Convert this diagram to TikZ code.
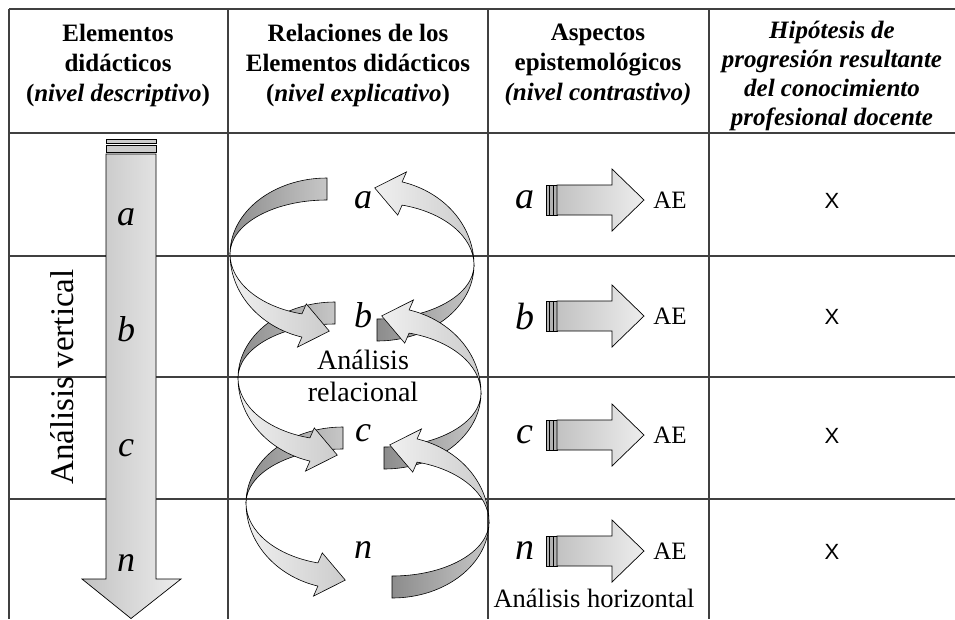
\documentclass[tikz,border=0pt]{standalone}
\usepackage{fontspec}
\setmainfont{Liberation Serif}
\newfontfamily\sansx{Liberation Sans}
\definecolor{gristabla}{HTML}{404040}

\tikzset{
  tabla/.style={draw=gristabla, line width=1.3pt},
  cabecera/.style={font=\bfseries\fontsize{25}{30}\selectfont, align=center},
  letra/.style={font=\itshape\fontsize{36}{38}\selectfont},
  bloque/.style={draw=black, line width=0.7pt, left color=black!24, right color=black!7},
  raya/.style={draw=black, line width=0.6pt, fill=black!30},
  cintaosc/.style={draw=black, line width=0.6pt, left color=black!45, right color=black!22},
  cintaclara/.style={draw=black, line width=0.6pt, left color=black!6, right color=black!20},
  lazo/.pic={
    % cara de atras
    \path[cintaosc] (0,76) arc[start angle=90, end angle=180, x radius=97, y radius=76]
      arc[start angle=180, end angle=90, x radius=97, y radius=54] -- cycle;
    % cara de delante con la punta
    \path[cintaclara] (-97,0) arc[start angle=180, end angle=255, x radius=97, y radius=86]
      -- (-29.5,-93.1) -- (2.3,-77.1) -- (-20.7,-49.9) -- (-25.1,-59.9)
      arc[start angle=255, end angle=180, x radius=97, y radius=62] -- cycle;
  }
}

\begin{document}
\begin{tikzpicture}[x=1pt, y=1pt]
  \useasboundingbox (0,0) rectangle (955,-619);

  % tabla
  \draw[tabla] (9,-9) -- (955,-9);
  \foreach \yy in {133,256,377,499}
    \draw[tabla] (9,-\yy) -- (955,-\yy);
  \foreach \xx in {9,228,488,709}
    \draw[tabla] (\xx,-9) -- (\xx,-619);

  % cabeceras
  \node[cabecera] (cab1) at (118,-65) {Elementos\\didácticos\\(\textit{nivel descriptivo})};
  \node[cabecera] (cab2) at (358,-65) {Relaciones de los\\Elementos didácticos\\(\textit{nivel explicativo})};
  \node[cabecera] (cab3) at (598,-65) {Aspectos\\epistemológicos\\\textit{(nivel contrastivo)}};
  \node[cabecera, font=\bfseries\itshape\fontsize{25}{29}\selectfont] (cab4) at (832,-76)
    {Hipótesis de\\progresión resultante\\del conocimiento\\profesional docente};

  % analisis vertical
  \path[raya, fill=black!20] (106,-139) rectangle (156,-143);
  \path[raya, fill=black!20] (106,-145) rectangle (156,-152);
  \path[bloque] (106,-154) -- (156,-154) -- (156,-579) -- (181,-579) -- (131,-618.5)
    -- (82,-579) -- (106,-579) -- cycle;
  \foreach \yy/\ll in {217/a,329/b,448/c,563/n}
    \node[letra] (v-\ll) at (126,-\yy) {\ll};
  \node[rotate=90, font=\fontsize{33}{36}\selectfont] (vertical) at (62,-377) {Análisis vertical};

  % analisis relacional
  \pic at (343,-503) {lazo};
  \pic at (335,-378) {lazo};
  \pic at (327,-254) {lazo};
  \pic[rotate=180] at (377,-265) {lazo};
  \pic[rotate=180] at (384,-393) {lazo};
  \pic[rotate=180] at (392,-522) {lazo};
  \foreach \yy/\ll in {200/a,315/b,433/c,550/n}
    \node[letra] (r-\ll) at (363,-\yy) {\ll};
  \node[align=center, font=\fontsize{28}{32}\selectfont] (relacional) at (363,-376) {Análisis\\relacional};

  % analisis horizontal
  \foreach \yy/\ll in {200/a,316/b,435/c,551/n}{
    \node[letra, font=\itshape\fontsize{38}{40}\selectfont] (h-\ll) at (525,-\yy) {\ll};
    \path[raya] (546,-\yy+15) rectangle (549.7,-\yy-15);
    \path[raya] (549.7,-\yy+15) rectangle (553.3,-\yy-15);
    \path[raya] (553.3,-\yy+15) rectangle (557,-\yy-15);
    \path[bloque] (557,-\yy+15) -- (612,-\yy+15) -- (612,-\yy+31) -- (644,-\yy)
      -- (612,-\yy-31) -- (612,-\yy-15) -- (557,-\yy-15) -- cycle;
    \node[font=\fontsize{25}{27}\selectfont] (ae-\ll) at (670,-\yy) {AE};
    \node[font=\sansx\fontsize{22}{24}\selectfont] (x-\ll) at (832,-\yy-1) {X};
  }
  \node[font=\fontsize{26.5}{28}\selectfont] (horizontal) at (594,-598) {Análisis horizontal};
\end{tikzpicture}
\end{document}
